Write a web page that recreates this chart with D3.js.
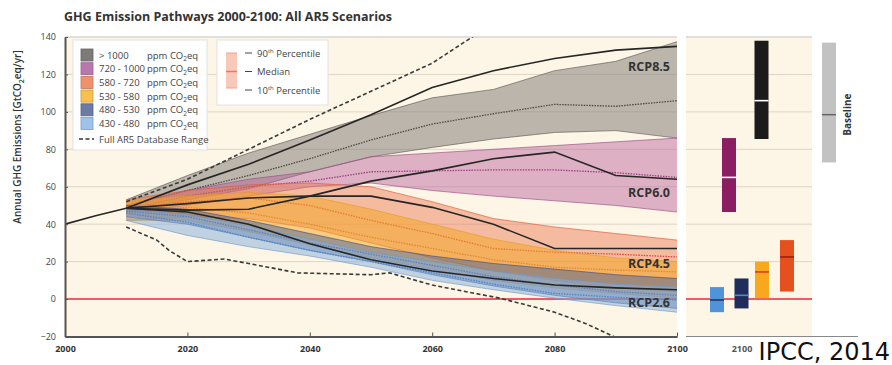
<!DOCTYPE html>
<html>
<head>
<meta charset="utf-8">
<script src="https://cdn.jsdelivr.net/npm/d3@7"></script>
<style>
  body { margin: 0; background: #fff; }
  svg { display: block; font-family: "Open Sans", "Noto Sans", sans-serif; }
</style>
</head>
<body>
<svg id="chart" width="892" height="365"></svg>
<script>
// ---- data ---------------------------------------------------------------
const years = [2010, 2020, 2030, 2040, 2050, 2060, 2070, 2080, 2090, 2100];

const categories = [">1000", "720 - 1000", "580 - 720", "530 - 580", "480 - 530", "430 - 480"];

// 90th percentile / median / 10th percentile per concentration category (GtCO2eq/yr)
const gt1000Upper  = [53, 66, 78, 88, 98, 107.5, 112, 122, 127, 137.5];
const gt1000Median = [50, 58, 66, 75, 85, 93.5, 99, 104, 103, 106];
const gt1000Lower  = [47, 53, 59, 68, 76, 81, 85.5, 89, 90, 86];

const c720Upper  = [50, 58, 64, 68, 76, 78, 80, 82, 84, 86];
const c720Median = [48, 55, 60, 63, 68, 68.5, 69, 69, 67.5, 65];
const c720Lower  = [46, 50, 55, 60, 62, 58, 55, 52.5, 50, 46.5];

const c580Upper  = [53, 58, 61, 62, 60, 52, 43, 38.5, 35, 31.5];
const c580Median = [48, 52, 54, 50, 42, 35, 27, 25, 24, 22.5];
const c580Lower  = [42, 44, 43, 38, 30, 22, 15, 10, 6, 4];

const c530Upper  = [52, 55, 57, 55, 48, 40, 32, 26, 22, 20];
const c530Median = [47, 49, 46, 40, 33, 27, 21, 17, 15.5, 14.5];
const c530Lower  = [42, 42, 36, 29, 22, 16, 10, 6, 3, 0.5];

const c480Upper  = [50, 48, 42, 35, 28, 23, 19, 16, 13, 11];
const c480Median = [47, 44, 37, 30, 24, 18, 12, 7.5, 4, 2];
const c480Lower  = [44, 40, 33, 26, 20, 13, 7, 2, -2, -5];

const c430Upper  = [48, 45, 39, 32, 25, 20, 15, 11, 8, 6.4];
const c430Median = [46, 41, 33, 26, 20, 14, 8, 3, 1, -0.5];
const c430Lower  = [42, 34, 28, 23, 17, 10, 5, 0.5, -3.5, -7];

// historical emissions
const histYears  = [2000, 2005, 2010];
const histValues = [40, 44.5, 48.5];

// representative concentration pathways
const rcpNames = ["RCP8.5", "RCP6.0", "RCP4.5", "RCP2.6"];
const rcp85 = [48.5, 61, 72, 85, 98.5, 113, 122, 128.5, 133, 135];
const rcp60 = [48.5, 47.5, 48, 55, 63, 68.5, 75, 78.5, 66, 64];
const rcp45 = [48.5, 51, 54, 55, 55, 49, 40, 27, 27, 27];
const rcp26 = [48.5, 46.5, 40, 29.5, 21, 15, 11, 7.5, 6, 5];

// full AR5 database range
const rangeUpperYears  = [2010, 2020, 2030, 2040, 2050, 2060, 2067];
const rangeUpperValues = [52, 64, 80, 96, 111, 126, 141];
const rangeLowerYears  = [2010, 2015, 2017, 2020, 2026, 2030, 2038, 2050, 2053, 2060, 2071, 2080, 2085, 2090];
const rangeLowerValues = [38.5, 31.5, 26, 20, 21.4, 19, 14, 13, 14, 7.5, 0.5, -7, -13, -20.5];

// 2100 ranges (10th / median / 90th percentile)
const bar2100Low    = [85.5, 46.5, 4, 0.5, -5, -7];
const bar2100Median = [106, 65, 22.5, 14.5, 2, -0.5];
const bar2100High   = [138, 86, 31.5, 20, 11, 6.4];

// baseline scenarios in 2100
const baselineLow = 73, baselineMedian = 98.5, baselineHigh = 137;

const yTicks = [-20, 0, 20, 40, 60, 80, 100, 120, 140];
const xTicks = [2000, 2020, 2040, 2060, 2080, 2100];

// ---- styling --------------------------------------------------------------
const bandFill   = ["#7f7b75", "#b5609a", "#e8754e", "#f5a623", "#4f6496", "#84afdf"];
const bandOpac   = [0.52, 0.45, 0.45, 0.52, 0.5, 0.5];
const bandEdge   = ["#5c5954", "#9c4b86", "#e0583a", "#e59a20", "#3d4f80", "#6d9acb"];
const medianCol  = ["#4a4844", "#9a3f82", "#d9473a", "#e0892a", "#3550a0", "#4f84c8"];
const swatchFill = ["#7d7b78", "#b878ae", "#f0916e", "#f9c04f", "#6b7ba5", "#9dc3ea"];
const barFill    = ["#1b1b1b", "#8b1d62", "#e5501f", "#f7a81c", "#1f2d5c", "#4f94d8"];
const barMedCol  = ["#ffffff", "#ffffff", "#a02010", "#d8401c", "#5a86c8", "#22355f"];

const cream = "#fdf5e5";
const gridCol = "#dcd5c8";
const textCol = "#333";

// ---- layout ---------------------------------------------------------------
const svg = d3.select("#chart");
const x = d3.scaleLinear().domain([2000, 2100]).range([65, 677]);
const y = d3.scaleLinear().domain([-20, 140]).range([336.5, 37]);
const panelX0 = 686, panelX1 = 812;

// title
svg.append("text")
  .attr("x", 64).attr("y", 21)
  .attr("font-size", 12.5).attr("font-weight", 700).attr("fill", textCol)
  .attr("textLength", 328).attr("lengthAdjust", "spacingAndGlyphs")
  .text("GHG Emission Pathways 2000-2100: All AR5 Scenarios");

// plot backgrounds
svg.append("rect").attr("x", x(2000)).attr("y", y(140))
  .attr("width", x(2100) - x(2000)).attr("height", y(-20) - y(140)).attr("fill", cream);
svg.append("rect").attr("x", panelX0).attr("y", y(140))
  .attr("width", panelX1 - panelX0).attr("height", y(-20) - y(140)).attr("fill", cream);

// gridlines
const gridVals = [20, 40, 60, 80, 100, 120];
svg.append("g").selectAll("line").data(gridVals).join("line")
  .attr("x1", x(2000)).attr("x2", x(2100))
  .attr("y1", d => y(d)).attr("y2", d => y(d))
  .attr("stroke", gridCol).attr("stroke-width", 1);
svg.append("g").selectAll("line").data(gridVals).join("line")
  .attr("x1", panelX0).attr("x2", panelX1)
  .attr("y1", d => y(d)).attr("y2", d => y(d))
  .attr("stroke", gridCol).attr("stroke-width", 1);
// top border lines
svg.append("line").attr("x1", x(2000)).attr("x2", x(2100)).attr("y1", y(140)).attr("y2", y(140))
  .attr("stroke", "#d6d6d6").attr("stroke-width", 1.5);
svg.append("line").attr("x1", panelX0).attr("x2", panelX1).attr("y1", y(140)).attr("y2", y(140))
  .attr("stroke", "#d6d6d6").attr("stroke-width", 1.5);

// clip for the main plot
svg.append("defs").append("clipPath").attr("id", "plotClip")
  .append("rect").attr("x", x(2000)).attr("y", y(140))
  .attr("width", x(2100) - x(2000)).attr("height", y(-20) - y(140));

const plot = svg.append("g").attr("clip-path", "url(#plotClip)");

// zero line
plot.append("line").attr("x1", x(2000)).attr("x2", x(2100)).attr("y1", y(0)).attr("y2", y(0))
  .attr("stroke", "#e8283a").attr("stroke-width", 1.5);
svg.append("line").attr("x1", panelX0).attr("x2", panelX1).attr("y1", y(0)).attr("y2", y(0))
  .attr("stroke", "#e8283a").attr("stroke-width", 1.5);

// percentile bands
const bandSets = [
  [gt1000Lower, gt1000Median, gt1000Upper],
  [c720Lower, c720Median, c720Upper],
  [c580Lower, c580Median, c580Upper],
  [c530Lower, c530Median, c530Upper],
  [c480Lower, c480Median, c480Upper],
  [c430Lower, c430Median, c430Upper]
];

const area = d3.area().x(d => x(d.year)).y0(d => y(d.lo)).y1(d => y(d.hi));
const line = d3.line().x(d => x(d.year)).y(d => y(d.v));

bandSets.forEach((set, i) => {
  const pts = years.map((yr, k) => ({ year: yr, lo: set[0][k], md: set[1][k], hi: set[2][k] }));
  const g = plot.append("g");
  g.append("path").datum(pts).attr("d", area)
    .attr("fill", bandFill[i]).attr("fill-opacity", bandOpac[i]);
  g.append("path").datum(pts.map(p => ({ year: p.year, v: p.hi }))).attr("d", line)
    .attr("fill", "none").attr("stroke", bandEdge[i]).attr("stroke-width", 0.8).attr("stroke-opacity", 0.8);
  g.append("path").datum(pts.map(p => ({ year: p.year, v: p.lo }))).attr("d", line)
    .attr("fill", "none").attr("stroke", bandEdge[i]).attr("stroke-width", 0.8).attr("stroke-opacity", 0.8);
  g.append("path").datum(pts.map(p => ({ year: p.year, v: p.md }))).attr("d", line)
    .attr("fill", "none").attr("stroke", medianCol[i]).attr("stroke-width", 1.3)
    .attr("stroke-dasharray", "1.5,1.2");
});

// full database range (dashed)
const toPts = (ys, vs) => ys.map((yr, k) => ({ year: yr, v: vs[k] }));
[toPts(rangeUpperYears, rangeUpperValues), toPts(rangeLowerYears, rangeLowerValues)].forEach(p => {
  plot.append("path").datum(p).attr("d", line)
    .attr("fill", "none").attr("stroke", "#3a3a3a").attr("stroke-width", 1.6)
    .attr("stroke-dasharray", "4,2.5");
});

// RCP pathways and history
[rcp85, rcp60, rcp45, rcp26].forEach(vals => {
  plot.append("path").datum(toPts(years, vals)).attr("d", line)
    .attr("fill", "none").attr("stroke", "#262626").attr("stroke-width", 1.6);
});
plot.append("path").datum(toPts(histYears, histValues)).attr("d", line)
  .attr("fill", "none").attr("stroke", "#262626").attr("stroke-width", 1.6);

// RCP labels at the right edge
const labelG = svg.append("g").attr("font-size", 12.5).attr("font-weight", 700)
  .attr("fill", textCol).attr("text-anchor", "end");
labelG.append("text").attr("x", 670).attr("y", y(120) - 3).text(rcpNames[0]);
labelG.append("text").attr("x", 670).attr("y", y(54) - 1).text(rcpNames[1]);
labelG.append("text").attr("x", 670).attr("y", y(16.5)).text(rcpNames[2]);
labelG.append("text").attr("x", 670).attr("y", y(-4.5)).text(rcpNames[3]);

// axes
const yAxis = d3.axisLeft(y).tickValues(yTicks).tickSizeInner(-3).tickSizeOuter(0).tickPadding(9);
const gy = svg.append("g").attr("transform", `translate(${x(2000)},0)`).call(yAxis);
gy.select(".domain").attr("stroke", "#555").attr("stroke-width", 2);
gy.selectAll(".tick line").attr("stroke", "#555");
gy.selectAll("text").attr("font-size", 9).attr("fill", "#444").attr("font-family", "Open Sans");

const xAxis = d3.axisBottom(x).tickValues(xTicks).tickSizeInner(-4).tickSizeOuter(0).tickPadding(9)
  .tickFormat(d3.format("d"));
const gx = svg.append("g").attr("transform", `translate(0,${y(-20)})`).call(xAxis);
gx.select(".domain").attr("stroke", "#555").attr("stroke-width", 2);
gx.selectAll(".tick line").attr("stroke", "#555");
gx.selectAll("text").attr("font-size", 9).attr("font-weight", 700).attr("fill", "#333").attr("font-family", "Open Sans");

// y axis title
const yTitle = svg.append("text")
  .attr("transform", `translate(21,${137}) rotate(-90)`)
  .attr("text-anchor", "middle").attr("font-size", 10).attr("font-weight", 600).attr("fill", textCol);
yTitle.append("tspan").text("Annual GHG Emissions [GtCO");
yTitle.append("tspan").attr("font-size", 7).attr("dy", 3).text("2");
yTitle.append("tspan").attr("dy", -3).text("eq/yr]");

// right panel: 2100 ranges by category
const barX = d3.scaleOrdinal().domain(categories).range([761.5, 729, 787, 762, 741.5, 717]);
const barW = 14;
const bars = svg.append("g");
categories.forEach((c, i) => {
  bars.append("rect").attr("x", barX(c) - barW / 2).attr("y", y(bar2100High[i]))
    .attr("width", barW).attr("height", y(bar2100Low[i]) - y(bar2100High[i]))
    .attr("fill", barFill[i]);
  bars.append("line").attr("x1", barX(c) - barW / 2).attr("x2", barX(c) + barW / 2)
    .attr("y1", y(bar2100Median[i])).attr("y2", y(bar2100Median[i]))
    .attr("stroke", barMedCol[i]).attr("stroke-width", 1.6);
});
// panel bottom axis
svg.append("line").attr("x1", panelX0).attr("x2", 858).attr("y1", y(-20)).attr("y2", y(-20))
  .attr("stroke", "#888").attr("stroke-width", 1.2);
svg.append("text").attr("x", 742).attr("y", 352).attr("text-anchor", "middle")
  .attr("font-size", 9).attr("font-weight", 700).attr("fill", "#555").text("2100");

// baseline bar
svg.append("rect").attr("x", 822).attr("y", y(baselineHigh)).attr("width", 14)
  .attr("height", y(baselineLow) - y(baselineHigh)).attr("fill", "#c2c2c2");
svg.append("line").attr("x1", 822).attr("x2", 836).attr("y1", y(baselineMedian)).attr("y2", y(baselineMedian))
  .attr("stroke", "#666").attr("stroke-width", 1.5);
svg.append("text").attr("transform", `translate(851,${y(baselineMedian)}) rotate(-90)`)
  .attr("text-anchor", "middle").attr("font-size", 10).attr("font-weight", 700).attr("fill", textCol)
  .text("Baseline");

// legend: concentration categories
const leg = svg.append("g");
leg.append("rect").attr("x", 73).attr("y", 40).attr("width", 134).attr("height", 110)
  .attr("fill", "#fff").attr("stroke", "#e2e2e2");
categories.forEach((c, i) => {
  const cy = 55 + i * 13.7;
  leg.append("rect").attr("x", 81).attr("y", cy - 6).attr("width", 12).attr("height", 12)
    .attr("fill", swatchFill[i]).attr("stroke", d3.color(swatchFill[i]).darker(0.6)).attr("stroke-width", 0.8);
  leg.append("text").attr("x", 99).attr("y", cy + 3.5).attr("font-size", 9.5).attr("fill", "#444")
    .text(c === ">1000" ? "> 1000" : c);
  const t = leg.append("text").attr("x", 147).attr("y", cy + 3.5).attr("font-size", 9.5).attr("fill", "#444");
  t.append("tspan").text("ppm CO");
  t.append("tspan").attr("font-size", 6.5).attr("dy", 2.5).text("2");
  t.append("tspan").attr("dy", -2.5).text("eq");
});
leg.append("line").attr("x1", 79).attr("x2", 94).attr("y1", 139).attr("y2", 139)
  .attr("stroke", "#333").attr("stroke-width", 1.6).attr("stroke-dasharray", "4,2.5");
leg.append("text").attr("x", 99).attr("y", 142.5).attr("font-size", 9.5).attr("fill", "#444")
  .text("Full AR5 Database Range");

// legend: percentile key
const leg2 = svg.append("g");
leg2.append("rect").attr("x", 217).attr("y", 40).attr("width", 111).attr("height", 65)
  .attr("fill", "#fff").attr("stroke", "#e2e2e2");
leg2.append("rect").attr("x", 226).attr("y", 53).attr("width", 11).attr("height", 35)
  .attr("fill", "#f7c9b8");
[53, 88].forEach(v => leg2.append("line").attr("x1", 226).attr("x2", 237).attr("y1", v).attr("y2", v)
  .attr("stroke", "#f0a08a").attr("stroke-width", 1));
leg2.append("line").attr("x1", 226).attr("x2", 237).attr("y1", 71.5).attr("y2", 71.5)
  .attr("stroke", "#ec7a60").attr("stroke-width", 1.5);
const pctLabels = [["90", "th", " Percentile"], ["Median"], ["10", "th", " Percentile"]];
[53, 71.5, 90].forEach((v, i) => {
  leg2.append("line").attr("x1", 245).attr("x2", 252).attr("y1", v).attr("y2", v)
    .attr("stroke", "#444").attr("stroke-width", 1);
  const t = leg2.append("text").attr("x", 257).attr("y", v + 3.5).attr("font-size", 9.5).attr("fill", "#444");
  const p = pctLabels[i];
  t.append("tspan").text(p[0]);
  if (p.length > 1) {
    t.append("tspan").attr("font-size", 6).attr("dy", -3.5).text(p[1]);
    t.append("tspan").attr("dy", 3.5).text(p[2]);
  }
});

// source
svg.append("text").attr("x", 890).attr("y", 360).attr("text-anchor", "end")
  .attr("font-family", "DejaVu Sans").attr("font-size", 24).attr("fill", "#111")
  .text("IPCC, 2014");
</script>
</body>
</html>
